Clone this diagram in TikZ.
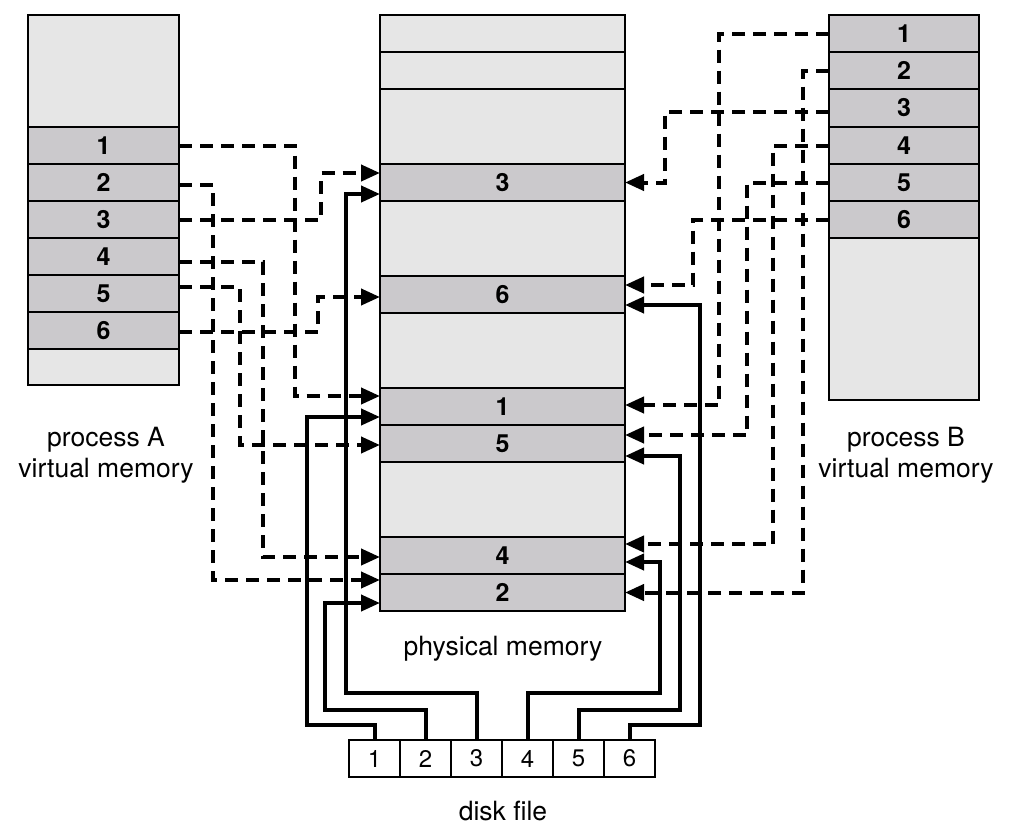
\documentclass[tikz,border=0pt]{standalone}
\usepackage{fontspec}
\setmainfont{TeX Gyre Heros}
\usetikzlibrary{arrows.meta}
\definecolor{lightg}{HTML}{E6E6E6}
\definecolor{darkg}{HTML}{CBC9CC}
\begin{document}
\begin{tikzpicture}[x=1pt,y=-1pt,
  cell/.style={draw=black, line width=2.2pt, inner sep=0pt, outer sep=0pt, anchor=north west, font=\bfseries\fontsize{25}{27}\selectfont},
  lightcell/.style={cell, fill=lightg},
  darkcell/.style={cell, fill=darkg},
  diskcell/.style={draw=black, line width=2.2pt, fill=white, minimum width=51pt, minimum height=37pt, anchor=north west, inner sep=0pt, outer sep=0pt, font=\fontsize{24}{26}\selectfont},
  vlink/.style={line width=4pt, dash pattern=on 13pt off 8pt, -{Triangle[length=19pt,width=16pt]}},
  dlink/.style={line width=4pt, -{Triangle[length=19pt,width=16pt]}},
  lbl/.style={font=\fontsize{26.5}{31}\selectfont, align=center, inner sep=0pt}
]
\useasboundingbox (0,0) rectangle (1010,835);
% process A
\node[lightcell, minimum width=151pt, minimum height=112pt] (atop) at (28,15) {};
\node[darkcell, minimum width=151pt, minimum height=37pt] (a1) at (28,127) {1};
\node[darkcell, minimum width=151pt, minimum height=37pt] (a2) at (28,164) {2};
\node[darkcell, minimum width=151pt, minimum height=37pt] (a3) at (28,201) {3};
\node[darkcell, minimum width=151pt, minimum height=37pt] (a4) at (28,238) {4};
\node[darkcell, minimum width=151pt, minimum height=37pt] (a5) at (28,275) {5};
\node[darkcell, minimum width=151pt, minimum height=37pt] (a6) at (28,312) {6};
\node[lightcell, minimum width=151pt, minimum height=36pt] (abot) at (28,349) {};
% physical memory
\node[lightcell, minimum width=245pt, minimum height=37pt] (pe1) at (380,15) {};
\node[lightcell, minimum width=245pt, minimum height=37pt] (pe2) at (380,52) {};
\node[lightcell, minimum width=245pt, minimum height=75pt] (pe3) at (380,89) {};
\node[darkcell, minimum width=245pt, minimum height=37pt] (p3) at (380,164) {3};
\node[lightcell, minimum width=245pt, minimum height=75pt] (pe4) at (380,201) {};
\node[darkcell, minimum width=245pt, minimum height=37pt] (p6) at (380,276) {6};
\node[lightcell, minimum width=245pt, minimum height=75pt] (pe5) at (380,313) {};
\node[darkcell, minimum width=245pt, minimum height=37pt] (p1) at (380,388) {1};
\node[darkcell, minimum width=245pt, minimum height=37pt] (p5) at (380,425) {5};
\node[lightcell, minimum width=245pt, minimum height=75pt] (pe6) at (380,462) {};
\node[darkcell, minimum width=245pt, minimum height=37pt] (p4) at (380,537) {4};
\node[darkcell, minimum width=245pt, minimum height=37pt] (p2) at (380,574) {2};
% process B
\node[darkcell, minimum width=150pt, minimum height=37pt] (b1) at (829,15) {1};
\node[darkcell, minimum width=150pt, minimum height=37pt] (b2) at (829,52) {2};
\node[darkcell, minimum width=150pt, minimum height=38pt] (b3) at (829,89) {3};
\node[darkcell, minimum width=150pt, minimum height=37pt] (b4) at (829,127) {4};
\node[darkcell, minimum width=150pt, minimum height=37pt] (b5) at (829,164) {5};
\node[darkcell, minimum width=150pt, minimum height=37pt] (b6) at (829,201) {6};
\node[lightcell, minimum width=150pt, minimum height=162pt] (bbot) at (829,238) {};
% disk file
\node[diskcell] (d1) at (349,740) {1};
\node[diskcell] (d2) at (400,740) {2};
\node[diskcell] (d3) at (451,740) {3};
\node[diskcell] (d4) at (502,740) {4};
\node[diskcell] (d5) at (553,740) {5};
\node[diskcell] (d6) at (604,740) {6};
% labels
\node[lbl] (labA) at (106,455) {process A\\virtual memory};
\node[lbl] (labB) at (906,455) {process B\\virtual memory};
\node[lbl, anchor=base] (labP) at (503,655) {physical memory};
\node[lbl, anchor=base] (labD) at (503,820) {disk file};
% process A mappings
\draw[vlink] (a1.east) -- ++(116,0) |- ([yshift=10.5pt]p1.west);
\draw[vlink] ([yshift=-2.5pt]a2.east) -- ++(34,0) |- ([yshift=12.5pt]p2.west);
\draw[vlink] (a3.east) -- ++(142,0) |- ([yshift=9.5pt]p3.west);
\draw[vlink] ([yshift=-5.5pt]a4.east) -- ++(84,0) |- ([yshift=-1.5pt]p4.west);
\draw[vlink] ([yshift=6.5pt]a5.east) -- ++(61,0) |- ([yshift=-1.5pt]p5.west);
\draw[vlink] ([yshift=-1.5pt]a6.east) -- ++(139,0) |- ([yshift=-2.5pt]p6.west);
% process B mappings
\draw[vlink] (b1.west) -- ++(-110,0) |- ([yshift=1.5pt]p1.east);
\draw[vlink] (b2.west) -- ++(-26,0) |- (p2.east);
\draw[vlink] ([yshift=-3.5pt]b3.west) -- ++(-164,0) |- (p3.east);
\draw[vlink] (b4.west) -- ++(-56,0) |- ([yshift=11.5pt]p4.east);
\draw[vlink] (b5.west) -- ++(-82,0) |- ([yshift=8.5pt]p5.east);
\draw[vlink] (b6.west) -- ++(-136,0) |- ([yshift=9.5pt]p6.east);
% disk file mappings
\draw[dlink] (d1.north) -- ++(0,-15) -- ++(-68,0) |- ([yshift=-10.5pt]p1.west);
\draw[dlink] (d2.north) -- ++(0,-30) -- ++(-101,0) |- ([yshift=-10.5pt]p2.west);
\draw[dlink] (d3.north) -- ++(0,-47) -- ++(-131,0) |- ([yshift=-11.5pt]p3.west);
\draw[dlink] (d4.north) -- ++(0,-47) -- ++(132.5,0) |- ([yshift=-6.5pt]p4.east);
\draw[dlink] (d5.north) -- ++(0,-30) -- ++(101.5,0) |- ([yshift=-12.5pt]p5.east);
\draw[dlink] (d6.north) -- ++(0,-15) -- ++(70.5,0) |- ([yshift=-10.5pt]p6.east);
\end{tikzpicture}
\end{document}
